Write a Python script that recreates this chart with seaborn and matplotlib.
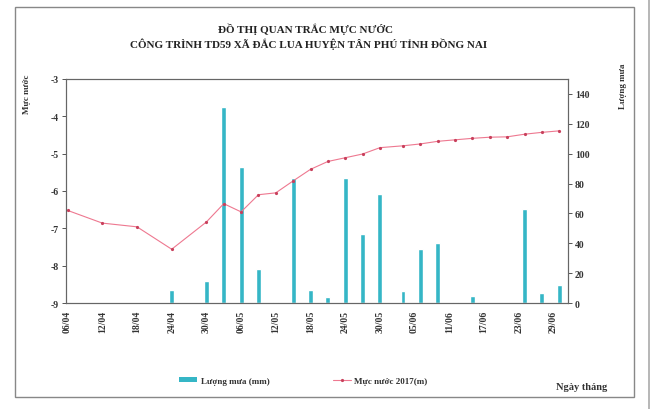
import numpy as np
import matplotlib
matplotlib.use("Agg")
import matplotlib.pyplot as plt
import seaborn as sns
import pandas as pd
from matplotlib.patches import Rectangle
from matplotlib.lines import Line2D
from matplotlib.patches import Patch

# ── Data ─────────────────────────────────────────────────────────────────────
YEAR = 2017
start = "06/04"

rain_dates = ["06/04", "24/04", "30/04", "03/05", "06/05", "09/05", "12/05",
              "15/05", "18/05", "21/05", "24/05", "27/05", "30/05", "03/06",
              "06/06", "09/06", "12/06", "15/06", "24/06", "27/06", "30/06"]
rain_mm = [1, 9, 15, 131, 91, 23, 1, 84, 9, 4, 84, 46, 73, 8,
           36, 40, 1, 5, 63, 7, 12]

level_dates = ["06/04", "12/04", "18/04", "24/04", "30/04", "03/05", "06/05",
               "09/05", "12/05", "15/05", "18/05", "21/05", "24/05", "27/05",
               "30/05", "03/06", "06/06", "09/06", "12/06", "15/06", "18/06",
               "21/06", "24/06", "27/06", "30/06"]
level_m = [-6.52, -6.86, -6.96, -7.56, -6.83, -6.34, -6.56, -6.10, -6.05,
           -5.73, -5.42, -5.21, -5.11, -5.01, -4.84, -4.79, -4.74, -4.67,
           -4.63, -4.59, -4.56, -4.55, -4.48, -4.43, -4.39]

tick_labels = ["06/04", "12/04", "18/04", "24/04", "30/04", "06/05", "12/05",
               "18/05", "24/05", "30/05", "05/06", "11/06", "17/06", "23/06",
               "29/06"]


def to_day(labels):
    d = pd.to_datetime([f"{s}/{YEAR}" for s in labels], format="%d/%m/%Y")
    d0 = pd.to_datetime(f"{start}/{YEAR}", format="%d/%m/%Y")
    return np.asarray((d - d0).days, dtype=float)


rain_df = pd.DataFrame({"day": to_day(rain_dates), "rain": rain_mm})
level_df = pd.DataFrame({"day": to_day(level_dates), "level": level_m})

# ── Figure ───────────────────────────────────────────────────────────────────
sns.set_style("white")
plt.rcParams["font.family"] = ["Liberation Serif", "DejaVu Serif"]

fig = plt.figure(figsize=(6.52, 4.10), dpi=100)
ax = fig.add_axes([0.101, 0.2585, 0.770, 0.5465])   # water level (left)
ax_r = ax.twinx()                                    # rain (right)

BAR = "#35b6c6"
LINE = "#ee7890"

sns.barplot(data=rain_df, x="day", y="rain", native_scale=True,
            width=0.28, color=BAR, saturation=1, ax=ax_r)
sns.lineplot(data=level_df, x="day", y="level", color=LINE, lw=0.8,
             marker="o", markersize=2.3, markeredgewidth=0,
             markerfacecolor="#c8405c", ax=ax)

# line above bars
ax.set_zorder(ax_r.get_zorder() + 1)
ax.patch.set_visible(False)

ax.set_xlim(-0.3, 86.5)
ax.set_ylim(-9, -3)
ax_r.set_ylim(0, 150)

ax.set_yticks(np.arange(-9, -2, 1))
ax.set_yticklabels([str(v) for v in range(-9, -2)])
ax_r.set_yticks(np.arange(0, 141, 20))
ax.set_xticks(to_day(tick_labels))
ax.set_xticklabels(tick_labels, rotation=90)

for a in (ax, ax_r):
    a.set_xlabel("")
    a.set_ylabel("")
    a.tick_params(direction="out", length=3, width=0.7, color="#555555",
                  labelsize=7, pad=2)
    for sp in a.spines.values():
        sp.set_color("#666666")
        sp.set_linewidth(0.8)
for lab in ax.get_xticklabels() + ax.get_yticklabels() + ax_r.get_yticklabels():
    lab.set_fontweight("bold")
    lab.set_color("#333333")

# titles and axis names
fig.text(0.468, 0.928, "ĐỒ THỊ QUAN TRẮC MỰC NƯỚC", ha="center", va="center",
         fontsize=8, fontweight="bold", color="#222222")
fig.text(0.473, 0.891, "CÔNG TRÌNH TD59 XÃ ĐẮC LUA HUYỆN TÂN PHÚ TỈNH ĐỒNG NAI",
         ha="center", va="center", fontsize=8, fontweight="bold", color="#222222")
fig.text(0.042, 0.77, "Mực nước", rotation=90, ha="center", va="center",
         fontsize=6.5, fontweight="bold", color="#333333")
fig.text(0.955, 0.79, "Lượng mưa", rotation=90, ha="center", va="center",
         fontsize=6.5, fontweight="bold", color="#333333")
fig.text(0.892, 0.055, "Ngày tháng", ha="center", va="center",
         fontsize=7.5, fontweight="bold", color="#333333")

handles = [Patch(facecolor=BAR, edgecolor="none", label="Lượng mưa (mm)"),
           Line2D([0], [0], color=LINE, lw=0.8, marker="o", markersize=2.3,
                  markeredgewidth=0, markerfacecolor="#c8405c",
                  label="Mực nước 2017(m)")]
leg = fig.legend(handles=handles, loc="center", bbox_to_anchor=(0.465, 0.068),
                 ncol=2, frameon=False, fontsize=6.5, handlelength=2.0,
                 handleheight=0.5, columnspacing=7, handletextpad=0.4)
for t in leg.get_texts():
    t.set_fontweight("bold")
    t.set_color("#333333")

# scanned-page frame
fig.add_artist(Rectangle((0.023, 0.029), 0.950, 0.951, transform=fig.transFigure,
                         fill=False, edgecolor="#888888", lw=1.0))
fig.add_artist(Line2D([0.995, 0.995], [0.0, 1.0], transform=fig.transFigure,
                      color="#aaaaaa", lw=1.2))

fig.savefig("out.png", dpi=100)
